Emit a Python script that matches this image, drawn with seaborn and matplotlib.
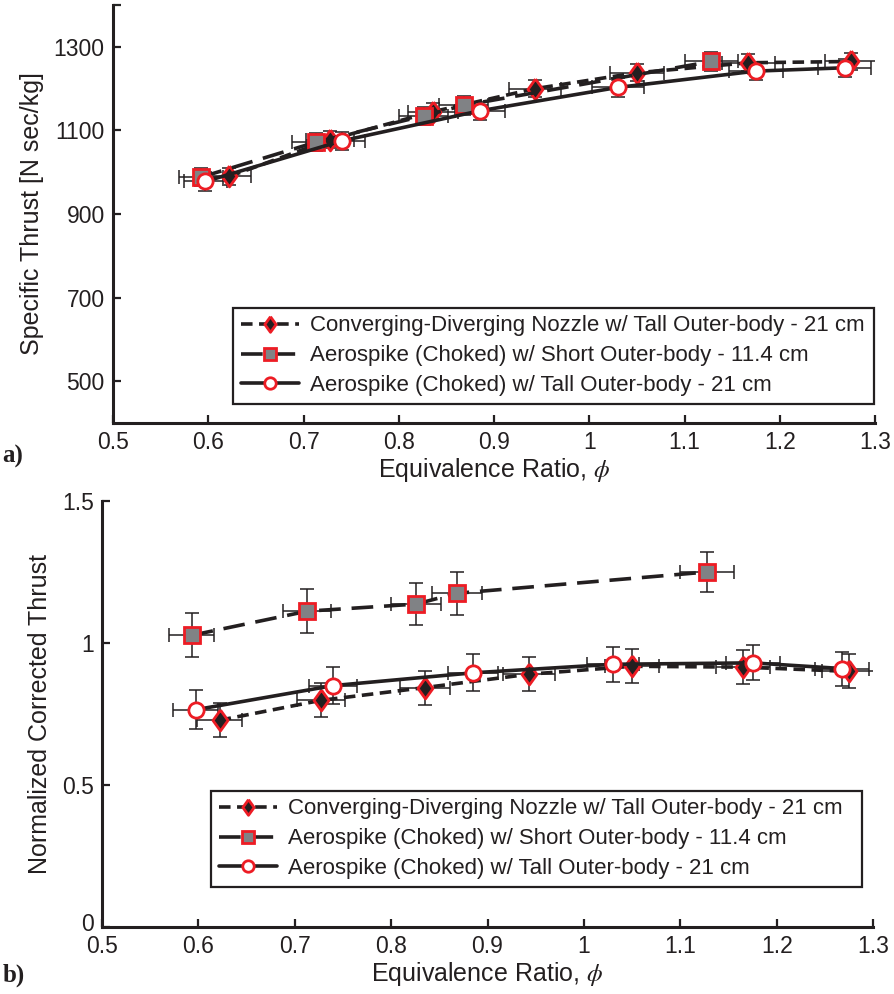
import matplotlib
matplotlib.use("Agg")
import matplotlib.pyplot as plt
import matplotlib.transforms as mtransforms
import seaborn as sns
import numpy as np

# ---------------- data ----------------
labels = ["Converging-Diverging Nozzle w/ Tall Outer-body - 21 cm",
          "Aerospike (Choked) w/ Short Outer-body - 11.4 cm",
          "Aerospike (Choked) w/ Tall Outer-body - 21 cm"]

# (a) specific thrust
cd_phi_a = [0.622, 0.728, 0.836, 0.943, 1.050, 1.167, 1.275]
cd_thr_a = [990, 1078, 1145, 1200, 1238, 1262, 1265]
cd_yerr_a = [20, 20, 20, 20, 20, 20, 20]
cd_xerr_a = [0.023, 0.025, 0.026, 0.027, 0.028, 0.028, 0.028]

sh_phi_a = [0.592, 0.713, 0.826, 0.868, 1.128]
sh_thr_a = [988, 1072, 1135, 1160, 1265]
sh_yerr_a = [22, 22, 22, 22, 22]
sh_xerr_a = [0.023, 0.025, 0.026, 0.026, 0.028]

tl_phi_a = [0.597, 0.740, 0.885, 1.030, 1.175, 1.268]
tl_thr_a = [978, 1075, 1147, 1203, 1242, 1250]
tl_yerr_a = [22, 22, 22, 22, 22, 22]
tl_xerr_a = [0.023, 0.025, 0.026, 0.027, 0.028, 0.028]

# (b) normalized corrected thrust
cd_phi_b = [0.622, 0.727, 0.835, 0.943, 1.050, 1.165, 1.275]
cd_thr_b = [0.728, 0.798, 0.843, 0.890, 0.918, 0.915, 0.900]
cd_yerr_b = [0.06, 0.06, 0.06, 0.06, 0.06, 0.06, 0.06]

sh_phi_b = [0.593, 0.713, 0.826, 0.868, 1.128]
sh_thr_b = [1.027, 1.112, 1.137, 1.175, 1.250]
sh_yerr_b = [0.078, 0.078, 0.075, 0.075, 0.07]

tl_phi_b = [0.597, 0.740, 0.885, 1.030, 1.175, 1.268]
tl_thr_b = [0.765, 0.850, 0.895, 0.925, 0.930, 0.910]
tl_yerr_b = [0.068, 0.065, 0.065, 0.062, 0.062, 0.06]

# ---------------- style ----------------
sns.set_style("ticks")
plt.rcParams["font.family"] = ["Liberation Sans", "DejaVu Sans"]
plt.rcParams["mathtext.fontset"] = "stix"

BLACK = "#231f20"
RED = "#ed1c24"
GREY = "#808285"
diamond = [(0, 1), (0.72, 0), (0, -1), (-0.72, 0), (0, 1)]

series_style = [
    dict(marker=diamond, markersize=15, markerfacecolor=BLACK, ls=(0, (3.2, 1.8))),
    dict(marker="s", markersize=11, markerfacecolor=GREY, ls=(0, (6, 3))),
    dict(marker="o", markersize=11, markerfacecolor="white", ls="-"),
]

fig = plt.figure(figsize=(8.95, 9.94), dpi=100)
ax1 = fig.add_axes([0.1263, 0.5744, 0.8514, 0.4205])
ax2 = fig.add_axes([0.114, 0.0674, 0.8615, 0.4286])


def draw(ax, sets):
    for (x, y, yerr, xerr), st, lab in zip(sets, series_style, labels):
        ax.errorbar(x, y, yerr=yerr, xerr=xerr, fmt="none", ecolor=BLACK,
                    elinewidth=1.1, capsize=5, capthick=1.1, zorder=2)
        sns.lineplot(x=x, y=y, ax=ax, color=BLACK, lw=2.6, linestyle=st["ls"],
                     marker=st["marker"], markersize=st["markersize"],
                     markerfacecolor=st["markerfacecolor"],
                     markeredgecolor=RED, markeredgewidth=2.0,
                     label=lab, zorder=3, sort=False)


draw(ax1, [(cd_phi_a, cd_thr_a, cd_yerr_a, cd_xerr_a),
           (sh_phi_a, sh_thr_a, sh_yerr_a, sh_xerr_a),
           (tl_phi_a, tl_thr_a, tl_yerr_a, tl_xerr_a)])
draw(ax2, [(cd_phi_b, cd_thr_b, cd_yerr_b, cd_xerr_a),
           (sh_phi_b, sh_thr_b, sh_yerr_b, sh_xerr_a),
           (tl_phi_b, tl_thr_b, tl_yerr_b, tl_xerr_a)])

xt = [0.5, 0.6, 0.7, 0.8, 0.9, 1.0, 1.1, 1.2, 1.3]
xtl = ["0.5", "0.6", "0.7", "0.8", "0.9", "1", "1.1", "1.2", "1.3"]

for ax in (ax1, ax2):
    ax.set_xlim(0.5, 1.3)
    ax.set_xticks(xt)
    ax.set_xticklabels(xtl)
    for s in ("top", "right"):
        ax.spines[s].set_visible(False)
    for s in ("left", "bottom"):
        ax.spines[s].set_linewidth(2.2)
        ax.spines[s].set_color(BLACK)
    ax.tick_params(direction="in", length=6, width=1.6, labelsize=16.5,
                   colors=BLACK, pad=6)
    ax.tick_params(which="minor", direction="in", length=6, width=1.6)
    ax.set_xlabel(r"Equivalence Ratio, $\phi$", fontsize=18, color=BLACK, labelpad=1)

ax1.set_ylim(400, 1400)
ax1.set_yticks([500, 700, 900, 1100, 1300])
ax1.set_yticks([1400], minor=True)
ax1.set_ylabel("Specific Thrust [N sec/kg]", fontsize=18, color=BLACK, labelpad=7)

ax2.set_ylim(0, 1.5)
ax2.set_yticks([0, 0.5, 1, 1.5])
ax2.set_yticklabels(["0", "0.5", "1", "1.5"])
ax2.set_ylabel("Normalized Corrected Thrust", fontsize=18, color=BLACK, labelpad=7)

# lift the "0" label slightly, as in the reference, so it clears "0.5"
lbl0 = ax2.get_yticklabels()[0]
lbl0.set_transform(lbl0.get_transform() +
                   mtransforms.ScaledTranslation(0, 5 / 100, fig.dpi_scale_trans))


def legend(ax, x0, y0, w):
    leg = ax.legend(loc="lower left", bbox_to_anchor=(x0, y0, w, 0.2), mode="expand",
                    fontsize=16, handlelength=2.6, labelspacing=0.4,
                    borderpad=0.35, handletextpad=0.5, fancybox=False,
                    framealpha=1, edgecolor=BLACK, borderaxespad=0,
                    markerscale=0.75)
    leg.get_frame().set_linewidth(1.6)
    for t in leg.get_texts():
        t.set_color(BLACK)


legend(ax1, 0.1575, 0.0455, 0.841)
legend(ax2, 0.1414, 0.0939, 0.844)

fig.text(0.003, 0.535, "a)", fontsize=18, fontweight="bold",
         family="Liberation Serif", color=BLACK)
fig.text(0.003, 0.012, "b)", fontsize=18, fontweight="bold",
         family="Liberation Serif", color=BLACK)

fig.savefig("out.png", dpi=100)
